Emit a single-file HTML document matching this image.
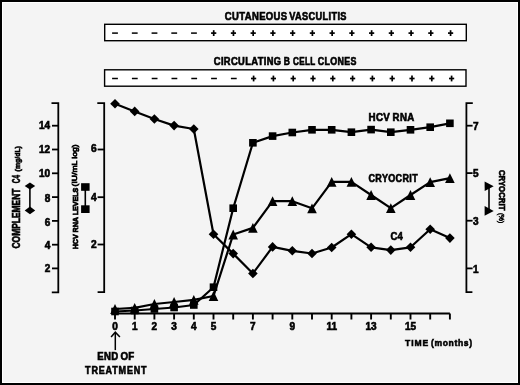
<!DOCTYPE html>
<html><head><meta charset="utf-8"><style>
html,body{margin:0;padding:0;background:#f4f4f4;}
svg{display:block;will-change:transform;}
</style></head><body>
<svg width="520" height="385" viewBox="0 0 520 385">
<rect x="0" y="0" width="520" height="385" fill="#000"/>
<rect x="2" y="2" width="516" height="381" fill="#fff"/>
<rect x="3" y="3" width="514" height="379" fill="#f4f4f4"/>
<text transform="translate(224.8,19.6) scale(0.95,1)" font-family="Liberation Sans" font-weight="bold" stroke="#000" stroke-width="0.6" font-size="10" text-anchor="start" textLength="65.68" lengthAdjust="spacing">CUTANEOUS</text>
<text transform="translate(289.2,19.6) scale(0.922,1)" font-family="Liberation Sans" font-weight="bold" stroke="#000" stroke-width="0.6" font-size="10" text-anchor="start" textLength="62.15" lengthAdjust="spacing">VASCULITIS</text>
<text transform="translate(213.8,65.0) scale(0.936,1)" font-family="Liberation Sans" font-weight="bold" stroke="#000" stroke-width="0.6" font-size="10" text-anchor="start" textLength="71.90" lengthAdjust="spacing">CIRCULATING</text>
<text transform="translate(283.8,65.0) scale(0.852,1)" font-family="Liberation Sans" font-weight="bold" stroke="#000" stroke-width="0.6" font-size="10" text-anchor="start" textLength="7.63" lengthAdjust="spacing">B</text>
<text transform="translate(293.0,65.0) scale(0.814,1)" font-family="Liberation Sans" font-weight="bold" stroke="#000" stroke-width="0.6" font-size="10" text-anchor="start" textLength="27.40" lengthAdjust="spacing">CELL</text>
<text transform="translate(317.8,65.0) scale(0.887,1)" font-family="Liberation Sans" font-weight="bold" stroke="#000" stroke-width="0.6" font-size="10" text-anchor="start" textLength="43.63" lengthAdjust="spacing">CLONES</text>
<rect x="104.7" y="24.3" width="361.6" height="16.4" fill="#fff" stroke="#000" stroke-width="1.4"/>
<rect x="104.6" y="69.8" width="361.4" height="16.4" fill="#fff" stroke="#000" stroke-width="1.4"/>
<line x1="112.10" y1="33.1" x2="117.90" y2="33.1" stroke="#000" stroke-width="1.5"/>
<line x1="112.10" y1="78.5" x2="117.90" y2="78.5" stroke="#000" stroke-width="1.5"/>
<line x1="131.84" y1="33.1" x2="137.64" y2="33.1" stroke="#000" stroke-width="1.5"/>
<line x1="131.90" y1="78.5" x2="137.70" y2="78.5" stroke="#000" stroke-width="1.5"/>
<line x1="151.58" y1="33.1" x2="157.38" y2="33.1" stroke="#000" stroke-width="1.5"/>
<line x1="151.70" y1="78.5" x2="157.50" y2="78.5" stroke="#000" stroke-width="1.5"/>
<line x1="171.32" y1="33.1" x2="177.12" y2="33.1" stroke="#000" stroke-width="1.5"/>
<line x1="171.50" y1="78.5" x2="177.30" y2="78.5" stroke="#000" stroke-width="1.5"/>
<line x1="191.06" y1="33.1" x2="196.86" y2="33.1" stroke="#000" stroke-width="1.5"/>
<line x1="191.30" y1="78.5" x2="197.10" y2="78.5" stroke="#000" stroke-width="1.5"/>
<line x1="211.10" y1="33.1" x2="216.30" y2="33.1" stroke="#000" stroke-width="1.7"/><line x1="213.70" y1="30.200000000000003" x2="213.70" y2="36.0" stroke="#000" stroke-width="1.7"/>
<line x1="211.10" y1="78.5" x2="216.90" y2="78.5" stroke="#000" stroke-width="1.5"/>
<line x1="230.84" y1="33.1" x2="236.04" y2="33.1" stroke="#000" stroke-width="1.7"/><line x1="233.44" y1="30.200000000000003" x2="233.44" y2="36.0" stroke="#000" stroke-width="1.7"/>
<line x1="230.90" y1="78.5" x2="236.70" y2="78.5" stroke="#000" stroke-width="1.5"/>
<line x1="250.58" y1="33.1" x2="255.78" y2="33.1" stroke="#000" stroke-width="1.7"/><line x1="253.18" y1="30.200000000000003" x2="253.18" y2="36.0" stroke="#000" stroke-width="1.7"/>
<line x1="251.00" y1="78.5" x2="256.20" y2="78.5" stroke="#000" stroke-width="1.7"/><line x1="253.60" y1="75.6" x2="253.60" y2="81.4" stroke="#000" stroke-width="1.7"/>
<line x1="270.32" y1="33.1" x2="275.52" y2="33.1" stroke="#000" stroke-width="1.7"/><line x1="272.92" y1="30.200000000000003" x2="272.92" y2="36.0" stroke="#000" stroke-width="1.7"/>
<line x1="270.80" y1="78.5" x2="276.00" y2="78.5" stroke="#000" stroke-width="1.7"/><line x1="273.40" y1="75.6" x2="273.40" y2="81.4" stroke="#000" stroke-width="1.7"/>
<line x1="290.06" y1="33.1" x2="295.26" y2="33.1" stroke="#000" stroke-width="1.7"/><line x1="292.66" y1="30.200000000000003" x2="292.66" y2="36.0" stroke="#000" stroke-width="1.7"/>
<line x1="290.60" y1="78.5" x2="295.80" y2="78.5" stroke="#000" stroke-width="1.7"/><line x1="293.20" y1="75.6" x2="293.20" y2="81.4" stroke="#000" stroke-width="1.7"/>
<line x1="309.80" y1="33.1" x2="315.00" y2="33.1" stroke="#000" stroke-width="1.7"/><line x1="312.40" y1="30.200000000000003" x2="312.40" y2="36.0" stroke="#000" stroke-width="1.7"/>
<line x1="310.40" y1="78.5" x2="315.60" y2="78.5" stroke="#000" stroke-width="1.7"/><line x1="313.00" y1="75.6" x2="313.00" y2="81.4" stroke="#000" stroke-width="1.7"/>
<line x1="329.54" y1="33.1" x2="334.74" y2="33.1" stroke="#000" stroke-width="1.7"/><line x1="332.14" y1="30.200000000000003" x2="332.14" y2="36.0" stroke="#000" stroke-width="1.7"/>
<line x1="330.20" y1="78.5" x2="335.40" y2="78.5" stroke="#000" stroke-width="1.7"/><line x1="332.80" y1="75.6" x2="332.80" y2="81.4" stroke="#000" stroke-width="1.7"/>
<line x1="349.28" y1="33.1" x2="354.48" y2="33.1" stroke="#000" stroke-width="1.7"/><line x1="351.88" y1="30.200000000000003" x2="351.88" y2="36.0" stroke="#000" stroke-width="1.7"/>
<line x1="350.00" y1="78.5" x2="355.20" y2="78.5" stroke="#000" stroke-width="1.7"/><line x1="352.60" y1="75.6" x2="352.60" y2="81.4" stroke="#000" stroke-width="1.7"/>
<line x1="369.02" y1="33.1" x2="374.22" y2="33.1" stroke="#000" stroke-width="1.7"/><line x1="371.62" y1="30.200000000000003" x2="371.62" y2="36.0" stroke="#000" stroke-width="1.7"/>
<line x1="369.80" y1="78.5" x2="375.00" y2="78.5" stroke="#000" stroke-width="1.7"/><line x1="372.40" y1="75.6" x2="372.40" y2="81.4" stroke="#000" stroke-width="1.7"/>
<line x1="388.76" y1="33.1" x2="393.96" y2="33.1" stroke="#000" stroke-width="1.7"/><line x1="391.36" y1="30.200000000000003" x2="391.36" y2="36.0" stroke="#000" stroke-width="1.7"/>
<line x1="389.60" y1="78.5" x2="394.80" y2="78.5" stroke="#000" stroke-width="1.7"/><line x1="392.20" y1="75.6" x2="392.20" y2="81.4" stroke="#000" stroke-width="1.7"/>
<line x1="408.50" y1="33.1" x2="413.70" y2="33.1" stroke="#000" stroke-width="1.7"/><line x1="411.10" y1="30.200000000000003" x2="411.10" y2="36.0" stroke="#000" stroke-width="1.7"/>
<line x1="409.40" y1="78.5" x2="414.60" y2="78.5" stroke="#000" stroke-width="1.7"/><line x1="412.00" y1="75.6" x2="412.00" y2="81.4" stroke="#000" stroke-width="1.7"/>
<line x1="428.24" y1="33.1" x2="433.44" y2="33.1" stroke="#000" stroke-width="1.7"/><line x1="430.84" y1="30.200000000000003" x2="430.84" y2="36.0" stroke="#000" stroke-width="1.7"/>
<line x1="429.20" y1="78.5" x2="434.40" y2="78.5" stroke="#000" stroke-width="1.7"/><line x1="431.80" y1="75.6" x2="431.80" y2="81.4" stroke="#000" stroke-width="1.7"/>
<line x1="447.98" y1="33.1" x2="453.18" y2="33.1" stroke="#000" stroke-width="1.7"/><line x1="450.58" y1="30.200000000000003" x2="450.58" y2="36.0" stroke="#000" stroke-width="1.7"/>
<line x1="449.00" y1="78.5" x2="454.20" y2="78.5" stroke="#000" stroke-width="1.7"/><line x1="451.60" y1="75.6" x2="451.60" y2="81.4" stroke="#000" stroke-width="1.7"/>
<g stroke="#000" stroke-width="1.8" fill="none"><path d="M51.5,103.1 H58.3 V292.3 H51.8"/><path d="M52.0,125.7 H58.3"/><path d="M52.0,149.5 H58.3"/><path d="M52.0,173.3 H58.3"/><path d="M52.0,197.1 H58.3"/><path d="M52.0,220.9 H58.3"/><path d="M52.0,244.7 H58.3"/><path d="M52.0,268.4 H58.3"/><path d="M97.3,103.1 H104.2 V292.2 H97.6"/><path d="M97.6,149.5 H104.2"/><path d="M97.6,197.2 H104.2"/><path d="M97.6,244.5 H104.2"/><path d="M472.8,103.1 H466.4 V292.2 H472.4"/><path d="M466.4,125.7 H472.6"/><path d="M466.4,173.1 H472.6"/><path d="M466.4,220.7 H472.6"/><path d="M466.4,268.4 H472.6"/><path d="M115.0,313.5 H449.9" stroke-width="2.2"/><path d="M115.00,313.5 V319.5" stroke-width="1.9"/><path d="M134.70,313.5 V319.5" stroke-width="1.9"/><path d="M154.40,313.5 V319.5" stroke-width="1.9"/><path d="M174.10,313.5 V319.5" stroke-width="1.9"/><path d="M193.80,313.5 V319.5" stroke-width="1.9"/><path d="M213.50,313.5 V319.5" stroke-width="1.9"/><path d="M233.20,313.5 V319.5" stroke-width="1.9"/><path d="M252.90,313.5 V319.5" stroke-width="1.9"/><path d="M272.60,313.5 V319.5" stroke-width="1.9"/><path d="M292.30,313.5 V319.5" stroke-width="1.9"/><path d="M312.00,313.5 V319.5" stroke-width="1.9"/><path d="M331.70,313.5 V319.5" stroke-width="1.9"/><path d="M351.40,313.5 V319.5" stroke-width="1.9"/><path d="M371.10,313.5 V319.5" stroke-width="1.9"/><path d="M390.80,313.5 V319.5" stroke-width="1.9"/><path d="M410.50,313.5 V319.5" stroke-width="1.9"/><path d="M430.20,313.5 V319.5" stroke-width="1.9"/><path d="M449.90,313.5 V319.5" stroke-width="1.9"/></g>
<text x="50.0" y="128.9" font-family="Liberation Sans" font-weight="bold" stroke="#000" stroke-width="0.6" font-size="10" text-anchor="end">14</text>
<text x="50.0" y="152.7" font-family="Liberation Sans" font-weight="bold" stroke="#000" stroke-width="0.6" font-size="10" text-anchor="end">12</text>
<text x="50.0" y="176.5" font-family="Liberation Sans" font-weight="bold" stroke="#000" stroke-width="0.6" font-size="10" text-anchor="end">10</text>
<text x="50.4" y="201.99999999999997" font-family="Liberation Sans" font-weight="bold" stroke="#000" stroke-width="0.6" font-size="10" text-anchor="end">8</text>
<text x="50.4" y="226.1" font-family="Liberation Sans" font-weight="bold" stroke="#000" stroke-width="0.6" font-size="10" text-anchor="end">6</text>
<text x="50.4" y="249.09999999999997" font-family="Liberation Sans" font-weight="bold" stroke="#000" stroke-width="0.6" font-size="10" text-anchor="end">4</text>
<text x="50.4" y="271.9" font-family="Liberation Sans" font-weight="bold" stroke="#000" stroke-width="0.6" font-size="10" text-anchor="end">2</text>
<text x="96.6" y="152.4" font-family="Liberation Sans" font-weight="bold" stroke="#000" stroke-width="0.6" font-size="10.2" text-anchor="end">6</text>
<text x="96.6" y="201.39999999999998" font-family="Liberation Sans" font-weight="bold" stroke="#000" stroke-width="0.6" font-size="10.2" text-anchor="end">4</text>
<text x="96.6" y="248.2" font-family="Liberation Sans" font-weight="bold" stroke="#000" stroke-width="0.6" font-size="10.2" text-anchor="end">2</text>
<text x="473.0" y="129.60000000000002" font-family="Liberation Sans" font-weight="bold" stroke="#000" stroke-width="0.6" font-size="10" text-anchor="start">7</text>
<text x="473.0" y="177.2" font-family="Liberation Sans" font-weight="bold" stroke="#000" stroke-width="0.6" font-size="10" text-anchor="start">5</text>
<text x="473.0" y="225.1" font-family="Liberation Sans" font-weight="bold" stroke="#000" stroke-width="0.6" font-size="10" text-anchor="start">3</text>
<text x="473.0" y="272.6" font-family="Liberation Sans" font-weight="bold" stroke="#000" stroke-width="0.6" font-size="10" text-anchor="start">1</text>
<text x="115.0" y="330.2" font-family="Liberation Sans" font-weight="bold" stroke="#000" stroke-width="0.6" font-size="10" text-anchor="middle">0</text>
<text x="134.7" y="330.2" font-family="Liberation Sans" font-weight="bold" stroke="#000" stroke-width="0.6" font-size="10" text-anchor="middle">1</text>
<text x="154.4" y="330.2" font-family="Liberation Sans" font-weight="bold" stroke="#000" stroke-width="0.6" font-size="10" text-anchor="middle">2</text>
<text x="174.1" y="330.2" font-family="Liberation Sans" font-weight="bold" stroke="#000" stroke-width="0.6" font-size="10" text-anchor="middle">3</text>
<text x="193.8" y="330.2" font-family="Liberation Sans" font-weight="bold" stroke="#000" stroke-width="0.6" font-size="10" text-anchor="middle">4</text>
<text x="213.5" y="330.2" font-family="Liberation Sans" font-weight="bold" stroke="#000" stroke-width="0.6" font-size="10" text-anchor="middle">5</text>
<text x="252.9" y="330.2" font-family="Liberation Sans" font-weight="bold" stroke="#000" stroke-width="0.6" font-size="10" text-anchor="middle">7</text>
<text x="292.29999999999995" y="330.2" font-family="Liberation Sans" font-weight="bold" stroke="#000" stroke-width="0.6" font-size="10" text-anchor="middle">9</text>
<text x="331.7" y="330.2" font-family="Liberation Sans" font-weight="bold" stroke="#000" stroke-width="0.6" font-size="10" text-anchor="middle">11</text>
<text x="371.09999999999997" y="330.2" font-family="Liberation Sans" font-weight="bold" stroke="#000" stroke-width="0.6" font-size="10" text-anchor="middle">13</text>
<text x="410.5" y="330.2" font-family="Liberation Sans" font-weight="bold" stroke="#000" stroke-width="0.6" font-size="10" text-anchor="middle">15</text>
<text transform="translate(20.3,248.5) rotate(-90)" font-family="Liberation Sans" font-weight="bold" stroke="#000" stroke-width="0.6" font-size="10.4" text-anchor="start" textLength="60.0" lengthAdjust="spacingAndGlyphs">COMPLEMENT</text>
<text transform="translate(20.3,183.2) rotate(-90)" font-family="Liberation Sans" font-weight="bold" stroke="#000" stroke-width="0.6" font-size="10.4" text-anchor="start" textLength="8.2" lengthAdjust="spacingAndGlyphs">C4</text>
<text transform="translate(19.6,171.4) rotate(-90)" font-family="Liberation Sans" font-weight="bold" stroke="#000" stroke-width="0.6" font-size="7.2" text-anchor="start" textLength="25.3" lengthAdjust="spacingAndGlyphs">(mg/dL)</text>
<text transform="translate(77.8,249.3) rotate(-90)" font-family="Liberation Sans" font-weight="bold" stroke="#000" stroke-width="0.75" font-size="7.8" text-anchor="start" textLength="61.5" lengthAdjust="spacingAndGlyphs">HCV RNA LEVELS</text>
<text transform="translate(77.4,186.4) rotate(-90)" font-family="Liberation Sans" font-weight="normal" stroke="#000" stroke-width="0.75" font-size="7.6" text-anchor="start" textLength="42.0" lengthAdjust="spacingAndGlyphs">(IU/mL log)</text>
<text transform="translate(498.8,169.9) rotate(90)" font-family="Liberation Sans" font-weight="bold" stroke="#000" stroke-width="0.6" font-size="8.7" text-anchor="start" textLength="40.5" lengthAdjust="spacingAndGlyphs">CRYOCRIT</text>
<text transform="translate(499.1,212.9) rotate(90)" font-family="Liberation Sans" font-weight="normal" stroke="#000" stroke-width="0.55" font-size="6.8" text-anchor="start" textLength="10.3" lengthAdjust="spacingAndGlyphs">(%)</text>
<line x1="29.9" y1="186" x2="29.9" y2="210.4" stroke="#000" stroke-width="1.6"/>
<path d="M24.7,186.1 L29.95,182.6 L35.2,186.1 L29.95,189.6 Z" fill="#000"/>
<path d="M24.7,210.4 L29.95,206.6 L35.2,210.4 L29.95,214.2 Z" fill="#000"/>
<line x1="85.3" y1="187" x2="85.3" y2="209" stroke="#000" stroke-width="1.6"/>
<rect x="81.1" y="183.2" width="8.5" height="7.6" fill="#000"/>
<rect x="81.1" y="205.3" width="8.5" height="7.7" fill="#000"/>
<line x1="489" y1="186.3" x2="489" y2="211" stroke="#000" stroke-width="1.6"/>
<path d="M484.6,181.4 L493.7,186.3 L484.7,191 Z" fill="#000"/>
<path d="M484.6,205.9 L493.7,211.1 L484.6,215.8 Z" fill="#000"/>
<text transform="translate(368.5,120.6) scale(0.98,1)" font-family="Liberation Sans" font-weight="bold" stroke="#000" stroke-width="0.6" font-size="10" text-anchor="start" textLength="21.84" lengthAdjust="spacing">HCV</text>
<text transform="translate(392.6,120.6) scale(0.965,1)" font-family="Liberation Sans" font-weight="bold" stroke="#000" stroke-width="0.6" font-size="10" text-anchor="start" textLength="22.38" lengthAdjust="spacing">RNA</text>
<text transform="translate(368.5,182.0) scale(0.9,1)" font-family="Liberation Sans" font-weight="bold" stroke="#000" stroke-width="0.6" font-size="10" text-anchor="start" textLength="54.67" lengthAdjust="spacing">CRYOCRIT</text>
<text x="390.6" y="239.8" font-family="Liberation Sans" font-weight="bold" stroke="#000" stroke-width="0.6" font-size="10.8" text-anchor="start" textLength="12.2" lengthAdjust="spacingAndGlyphs">C4</text>
<polyline points="115.00,103.7 134.70,111.4 154.40,119.0 174.10,125.6 193.80,129.0 213.50,234.3 233.20,253.6 252.90,273.5 272.60,246.9 292.30,250.8 312.00,253.5 331.70,247.5 351.40,234.2 371.10,247.3 390.80,250.1 410.50,247.3 430.20,229.2 449.90,238.1" fill="none" stroke="#000" stroke-width="2.2" stroke-linejoin="round"/>
<polyline points="115.00,311.5 134.70,310.5 154.40,309.0 174.10,307.5 193.80,305.0 213.50,287.2 233.20,208.2 252.90,142.8 272.60,136.1 292.30,132.5 312.00,129.8 331.70,129.8 351.40,132.2 371.10,129.6 390.80,132.2 410.50,129.8 430.20,127.2 449.90,123.3" fill="none" stroke="#000" stroke-width="2.2" stroke-linejoin="round"/>
<polyline points="115.00,309.0 134.70,307.8 154.40,304.0 174.10,302.0 193.80,299.8 213.50,296.0 233.20,234.5 252.90,227.9 272.60,201.2 292.30,201.2 312.00,208.3 331.70,181.9 351.40,181.9 371.10,195.0 390.80,208.2 410.50,195.0 430.20,182.2 449.90,178.1" fill="none" stroke="#000" stroke-width="2.2" stroke-linejoin="round"/>
<path d="M110.20,103.7 L115.00,98.90 L119.80,103.7 L115.00,108.50 Z" fill="#000"/>
<path d="M129.90,111.4 L134.70,106.60 L139.50,111.4 L134.70,116.20 Z" fill="#000"/>
<path d="M149.60,119.0 L154.40,114.20 L159.20,119.0 L154.40,123.80 Z" fill="#000"/>
<path d="M169.30,125.6 L174.10,120.80 L178.90,125.6 L174.10,130.40 Z" fill="#000"/>
<path d="M189.00,129.0 L193.80,124.20 L198.60,129.0 L193.80,133.80 Z" fill="#000"/>
<path d="M208.70,234.3 L213.50,229.50 L218.30,234.3 L213.50,239.10 Z" fill="#000"/>
<path d="M228.40,253.6 L233.20,248.80 L238.00,253.6 L233.20,258.40 Z" fill="#000"/>
<path d="M248.10,273.5 L252.90,268.70 L257.70,273.5 L252.90,278.30 Z" fill="#000"/>
<path d="M267.80,246.9 L272.60,242.10 L277.40,246.9 L272.60,251.70 Z" fill="#000"/>
<path d="M287.50,250.8 L292.30,246.00 L297.10,250.8 L292.30,255.60 Z" fill="#000"/>
<path d="M307.20,253.5 L312.00,248.70 L316.80,253.5 L312.00,258.30 Z" fill="#000"/>
<path d="M326.90,247.5 L331.70,242.70 L336.50,247.5 L331.70,252.30 Z" fill="#000"/>
<path d="M346.60,234.2 L351.40,229.40 L356.20,234.2 L351.40,239.00 Z" fill="#000"/>
<path d="M366.30,247.3 L371.10,242.50 L375.90,247.3 L371.10,252.10 Z" fill="#000"/>
<path d="M386.00,250.1 L390.80,245.30 L395.60,250.1 L390.80,254.90 Z" fill="#000"/>
<path d="M405.70,247.3 L410.50,242.50 L415.30,247.3 L410.50,252.10 Z" fill="#000"/>
<path d="M425.40,229.2 L430.20,224.40 L435.00,229.2 L430.20,234.00 Z" fill="#000"/>
<path d="M445.10,238.1 L449.90,233.30 L454.70,238.1 L449.90,242.90 Z" fill="#000"/>
<rect x="111.20" y="307.70" width="7.6" height="7.6" fill="#000"/>
<rect x="130.90" y="306.70" width="7.6" height="7.6" fill="#000"/>
<rect x="150.60" y="305.20" width="7.6" height="7.6" fill="#000"/>
<rect x="170.30" y="303.70" width="7.6" height="7.6" fill="#000"/>
<rect x="190.00" y="301.20" width="7.6" height="7.6" fill="#000"/>
<rect x="209.70" y="283.40" width="7.6" height="7.6" fill="#000"/>
<rect x="229.40" y="204.40" width="7.6" height="7.6" fill="#000"/>
<rect x="249.10" y="139.00" width="7.6" height="7.6" fill="#000"/>
<rect x="268.80" y="132.30" width="7.6" height="7.6" fill="#000"/>
<rect x="288.50" y="128.70" width="7.6" height="7.6" fill="#000"/>
<rect x="308.20" y="126.00" width="7.6" height="7.6" fill="#000"/>
<rect x="327.90" y="126.00" width="7.6" height="7.6" fill="#000"/>
<rect x="347.60" y="128.40" width="7.6" height="7.6" fill="#000"/>
<rect x="367.30" y="125.80" width="7.6" height="7.6" fill="#000"/>
<rect x="387.00" y="128.40" width="7.6" height="7.6" fill="#000"/>
<rect x="406.70" y="126.00" width="7.6" height="7.6" fill="#000"/>
<rect x="426.40" y="123.40" width="7.6" height="7.6" fill="#000"/>
<rect x="446.10" y="119.50" width="7.6" height="7.6" fill="#000"/>
<path d="M115.00,304.10 L119.80,313.90 L110.20,313.90 Z" fill="#000"/>
<path d="M134.70,302.90 L139.50,312.70 L129.90,312.70 Z" fill="#000"/>
<path d="M154.40,299.10 L159.20,308.90 L149.60,308.90 Z" fill="#000"/>
<path d="M174.10,297.10 L178.90,306.90 L169.30,306.90 Z" fill="#000"/>
<path d="M193.80,294.90 L198.60,304.70 L189.00,304.70 Z" fill="#000"/>
<path d="M213.50,291.10 L218.30,300.90 L208.70,300.90 Z" fill="#000"/>
<path d="M233.20,229.60 L238.00,239.40 L228.40,239.40 Z" fill="#000"/>
<path d="M252.90,223.00 L257.70,232.80 L248.10,232.80 Z" fill="#000"/>
<path d="M272.60,196.30 L277.40,206.10 L267.80,206.10 Z" fill="#000"/>
<path d="M292.30,196.30 L297.10,206.10 L287.50,206.10 Z" fill="#000"/>
<path d="M312.00,203.40 L316.80,213.20 L307.20,213.20 Z" fill="#000"/>
<path d="M331.70,177.00 L336.50,186.80 L326.90,186.80 Z" fill="#000"/>
<path d="M351.40,177.00 L356.20,186.80 L346.60,186.80 Z" fill="#000"/>
<path d="M371.10,190.10 L375.90,199.90 L366.30,199.90 Z" fill="#000"/>
<path d="M390.80,203.30 L395.60,213.10 L386.00,213.10 Z" fill="#000"/>
<path d="M410.50,190.10 L415.30,199.90 L405.70,199.90 Z" fill="#000"/>
<path d="M430.20,177.30 L435.00,187.10 L425.40,187.10 Z" fill="#000"/>
<path d="M449.90,173.20 L454.70,183.00 L445.10,183.00 Z" fill="#000"/>
<line x1="115.3" y1="333" x2="115.3" y2="350.1" stroke="#000" stroke-width="1.5"/>
<path d="M111.1,337.1 L115.3,332.2 L119.9,337.1" fill="none" stroke="#000" stroke-width="1.5"/>
<text transform="translate(97.3,359.5) scale(0.957,1)" font-family="Liberation Sans" font-weight="bold" stroke="#000" stroke-width="0.6" font-size="10" text-anchor="start" textLength="21.84" lengthAdjust="spacing">END</text>
<text transform="translate(120.4,359.5) scale(0.976,1)" font-family="Liberation Sans" font-weight="bold" stroke="#000" stroke-width="0.6" font-size="10" text-anchor="start" textLength="14.24" lengthAdjust="spacing">OF</text>
<text transform="translate(85.1,373.7) scale(0.9,1)" font-family="Liberation Sans" font-weight="bold" stroke="#000" stroke-width="0.6" font-size="10" text-anchor="start" textLength="68.33" lengthAdjust="spacing">TREATMENT</text>
<text transform="translate(405.0,346.0) scale(0.9,1)" font-family="Liberation Sans" font-weight="bold" stroke="#000" stroke-width="0.6" font-size="9.5" text-anchor="start" textLength="25.89" lengthAdjust="spacing">TIME</text>
<text transform="translate(431.1,346.0) scale(0.9,1)" font-family="Liberation Sans" font-weight="bold" stroke="#000" stroke-width="0.6" font-size="9.5" text-anchor="start" textLength="45.44" lengthAdjust="spacing">(months)</text>
</svg>
</body></html>
